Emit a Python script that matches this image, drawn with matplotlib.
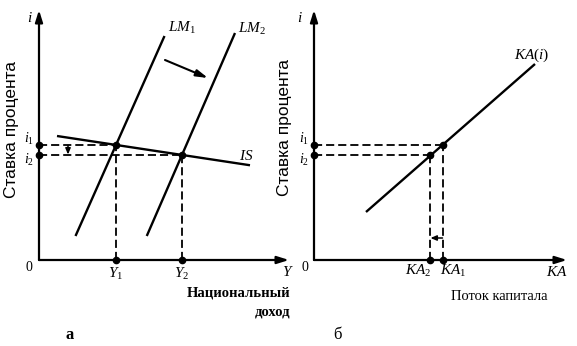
import matplotlib
matplotlib.use("Agg")
import matplotlib.pyplot as plt

plt.rcParams['mathtext.fontset'] = 'custom'
plt.rcParams['mathtext.rm'] = 'Liberation Serif'
plt.rcParams['mathtext.it'] = 'Liberation Serif:italic'
plt.rcParams['mathtext.bf'] = 'Liberation Serif:bold'

# ---- data (schematic units) ----
# Panel a: IS-LM
lm1_x = [1.46, 5.02]
lm1_y = [0.96, 8.96]
lm2_x = [4.31, 7.84]
lm2_y = [0.96, 9.08]
is_x = [0.72, 8.44]
is_y = [4.96, 3.79]
y_eq = [3.08, 5.72]      # Y1, Y2
i_eq = [4.6, 4.2]        # i1, i2
# Panel b: capital account
ka_x = [2.08, 8.84]
ka_y = [1.92, 7.84]
ka_eq = [5.16, 4.64]     # KA1, KA2

W, H = 577, 346
fig = plt.figure(figsize=(W / 100, H / 100), dpi=100)

SERIF = 'Liberation Serif'
SANS = 'Liberation Sans'
lw_solid = 1.7
lw_dash = 1.3
dash = (0, (4.5, 2.2))


def make_axes(px0, py0, wpx, hpx, xmax, ymax):
    ax = fig.add_axes([px0 / W, (H - py0) / H, wpx / W, hpx / H])
    ax.set_xlim(0, xmax)
    ax.set_ylim(0, ymax)
    ax.axis('off')
    ax.annotate('', xy=(xmax, 0), xytext=(0, 0),
                arrowprops=dict(arrowstyle='-|>,head_length=0.7,head_width=0.22',
                                lw=1.6, color='black', shrinkA=0, shrinkB=0),
                annotation_clip=False)
    ax.annotate('', xy=(0, ymax), xytext=(0, 0),
                arrowprops=dict(arrowstyle='-|>,head_length=0.7,head_width=0.22',
                                lw=1.6, color='black', shrinkA=0, shrinkB=0),
                annotation_clip=False)
    return ax


# ---------------- Panel a ----------------
axa = make_axes(39, 260, 250, 250, 10.0, 10.0)
axa.plot(lm1_x, lm1_y, color='black', lw=lw_solid, solid_capstyle='butt')
axa.plot(lm2_x, lm2_y, color='black', lw=lw_solid, solid_capstyle='butt')
axa.plot(is_x, is_y, color='black', lw=lw_solid, solid_capstyle='butt')
for yx, iy in zip(y_eq, i_eq):
    axa.plot([0, yx], [iy, iy], color='black', lw=lw_dash, linestyle=dash)
    axa.plot([yx, yx], [0, iy], color='black', lw=lw_dash, linestyle=dash)
    axa.plot([yx], [iy], 'o', color='black', ms=4.5, clip_on=False)
    axa.plot([0], [iy], 'o', color='black', ms=4.5, clip_on=False)
    axa.plot([yx], [0], 'o', color='black', ms=4.5, clip_on=False)
# shift arrow
axa.annotate('', xy=(6.76, 7.28), xytext=(5.04, 8.0),
             arrowprops=dict(arrowstyle='-|>,head_length=0.7,head_width=0.2',
                             lw=1.5, color='black', shrinkA=0, shrinkB=0))
# small interest arrow
axa.annotate('', xy=(1.16, i_eq[1] + 0.02), xytext=(1.16, i_eq[0] - 0.02),
             arrowprops=dict(arrowstyle='-|>,head_length=0.35,head_width=0.15',
                             lw=1.1, color='black', shrinkA=0, shrinkB=0))
fs = 11
axa.text(-0.36, 9.7, '$i$', fontsize=fs, ha='center', va='center')
axa.text(-0.4, -0.3, '0', fontsize=fs - 1, family=SERIF, ha='center', va='center')
axa.text(-0.2, i_eq[0] + 0.25, '$i_1$', fontsize=fs - 1, ha='right', va='center')
axa.text(-0.2, i_eq[1] - 0.2, '$i_2$', fontsize=fs - 1, ha='right', va='center')
axa.text(y_eq[0], -0.55, '$Y_1$', fontsize=fs, ha='center', va='center')
axa.text(y_eq[1], -0.55, '$Y_2$', fontsize=fs, ha='center', va='center')
axa.text(9.95, -0.45, '$Y$', fontsize=fs, ha='center', va='center')
axa.text(5.15, 9.3, '$LM_1$', fontsize=fs, ha='left', va='center')
axa.text(7.95, 9.25, '$LM_2$', fontsize=fs, ha='left', va='center')
axa.text(8.0, 4.2, '$IS$', fontsize=fs, ha='left', va='center')
axa.text(10.04, -1.32, 'Национальный', fontsize=10.5, family=SERIF, fontweight='bold',
         ha='right', va='center')
axa.text(10.04, -2.08, 'доход', fontsize=10.5, family=SERIF, fontweight='bold',
         ha='right', va='center')
axa.text(1.24, -3.0, 'а', fontsize=12, family=SERIF, fontweight='bold', ha='center', va='center')
axa.text(-1.08, 5.2, 'Ставка процента', fontsize=12.5, family=SANS, rotation=90,
         ha='center', va='center')

# ---------------- Panel b ----------------
axb = make_axes(314, 260, 253, 250, 10.12, 10.0)
axb.plot(ka_x, ka_y, color='black', lw=lw_solid, solid_capstyle='butt')
for kx, iy in zip(ka_eq, i_eq):
    axb.plot([0, kx], [iy, iy], color='black', lw=lw_dash, linestyle=dash)
    axb.plot([kx, kx], [0, iy], color='black', lw=lw_dash, linestyle=dash)
    axb.plot([kx], [iy], 'o', color='black', ms=4.5, clip_on=False)
    axb.plot([0], [iy], 'o', color='black', ms=4.5, clip_on=False)
    axb.plot([kx], [0], 'o', color='black', ms=4.5, clip_on=False)
axb.annotate('', xy=(ka_eq[1] + 0.02, 0.88), xytext=(ka_eq[0] - 0.02, 0.88),
             arrowprops=dict(arrowstyle='-|>,head_length=0.35,head_width=0.15',
                             lw=1.1, color='black', shrinkA=0, shrinkB=0))
axb.text(-0.56, 9.7, '$i$', fontsize=fs, ha='center', va='center')
axb.text(-0.36, -0.3, '0', fontsize=fs - 1, family=SERIF, ha='center', va='center')
axb.text(-0.2, i_eq[0] + 0.25, '$i_1$', fontsize=fs - 1, ha='right', va='center')
axb.text(-0.2, i_eq[1] - 0.2, '$i_2$', fontsize=fs - 1, ha='right', va='center')
axb.text(ka_eq[1] + 0.05, -0.45, '$KA_2$', fontsize=fs, ha='right', va='center')
axb.text(ka_eq[0] - 0.1, -0.45, '$KA_1$', fontsize=fs, ha='left', va='center')
axb.text(9.7, -0.45, '$KA$', fontsize=fs, ha='center', va='center')
axb.text(8.7, 8.2, '$KA(i)$', fontsize=fs, ha='center', va='center')
axb.text(7.4, -1.45, 'Поток капитала', fontsize=10.5, family=SERIF, ha='center', va='center')
axb.text(0.96, -3.0, 'б', fontsize=12, family=SERIF, ha='center', va='center')
axb.text(-1.16, 5.3, 'Ставка процента', fontsize=12.5, family=SANS, rotation=90,
         ha='center', va='center')

fig.savefig('out.png', dpi=100, facecolor='white')
